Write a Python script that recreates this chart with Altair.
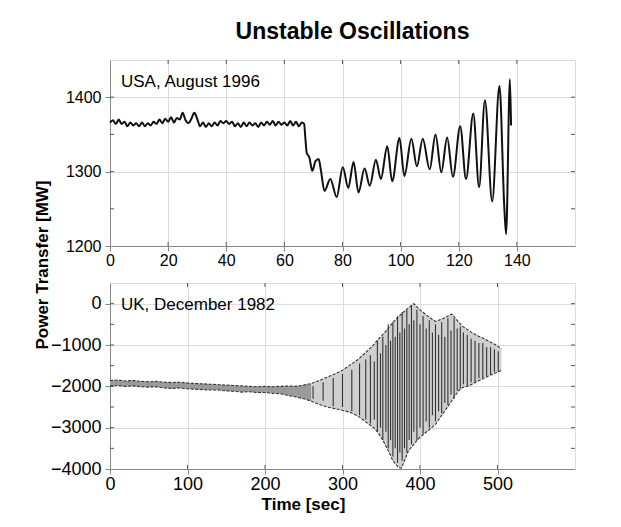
import altair as alt
import pandas as pd

TITLE = "Unstable Oscillations"
Y_TITLE = "Power Transfer [MW]"
X_TITLE = "Time [sec]"
USA_LABEL = ["USA, August 1996"]
UK_LABEL = ["UK, December 1982"]

# ---- top panel: USA, August 1996 ----
usa_t = [0, 1, 2, 3, 4, 5, 6, 7, 8, 9, 10, 11, 12, 13, 14, 15, 16, 17, 18, 19,
         20, 21, 22, 23, 24, 25, 26, 27, 28, 29, 30, 31, 32, 33, 34, 35, 36, 37, 38, 39,
         40, 41, 42, 43, 44, 45, 46, 47, 48, 49, 50, 51, 52, 53, 54, 55, 56, 57, 58, 59,
         60, 61, 62, 63, 64, 65, 66, 66.8,
         67.2, 67.7, 68.6, 69.6, 70.7, 71.8, 72.6, 73.8, 75.8, 78.0, 80.1, 82.0, 83.8,
         85.5, 87.6, 89.4, 91.5, 93.2, 95.4, 97.1, 99.6, 101.3, 103.7, 105.6, 107.6,
         110.0, 112.0, 114.0, 116.0, 118.0, 120.5, 122.5, 125.0, 127.0, 129.0, 131.5,
         134.0, 135.7, 136.3, 137.6, 138.0]
usa_mw = [1366, 1369, 1364, 1370, 1364, 1367, 1361, 1366, 1362, 1365, 1361, 1366, 1361, 1365,
          1362, 1367, 1364, 1370, 1365, 1371, 1367, 1373, 1366, 1372, 1370, 1379, 1369, 1365,
          1371, 1379, 1371, 1361, 1366, 1360, 1365, 1361, 1366, 1362, 1368, 1365, 1368, 1364,
          1367, 1361, 1365, 1360, 1366, 1361, 1366, 1362, 1365, 1360, 1366, 1362, 1367, 1363,
          1368, 1362, 1367, 1363, 1366, 1362, 1368, 1362, 1367, 1361, 1366, 1364,
          1346, 1325, 1319, 1301, 1314, 1317, 1301, 1274, 1290, 1266, 1306, 1278, 1313,
          1272, 1304, 1281, 1316, 1290, 1334, 1287, 1345, 1294, 1344, 1307, 1344,
          1303, 1350, 1299, 1346, 1293, 1361, 1290, 1378, 1279, 1396, 1260,
          1415, 1250, 1216, 1424, 1362]

usa_xlabels = [0, 20, 40, 60, 80, 100, 120, 140]
usa_xticks = [20, 40, 60, 80, 100, 120, 140]
usa_ylabels = [1200, 1300, 1400]
usa_yticks = [1250, 1300, 1350, 1400]

# ---- bottom panel: UK, December 1982 ----
uk_env_t = [0, 10, 20, 30, 40, 50, 60, 70, 80, 90, 100, 110, 120, 130, 140, 150, 160, 170,
            180, 190, 200, 210, 220, 230, 240, 250, 260, 270, 280, 290, 300, 310, 320, 330,
            340, 346, 352, 359, 365, 372, 376, 380, 385, 392, 400, 410, 420, 430, 441, 450,
            455, 463, 467, 475, 484, 492, 500, 505]
uk_env_hi = [-1860, -1850, -1870, -1860, -1880, -1890, -1880, -1900, -1910, -1900, -1920,
             -1930, -1940, -1950, -1960, -1970, -1980, -1990, -2000, -2010, -2000, -2010,
             -2000, -1990, -2000, -1970, -1930, -1860, -1780, -1700, -1610, -1480, -1350,
             -1180, -1000, -860, -750, -600, -450, -320, -250, -180, -100, 0, -150, -300, -430,
             -360, -250, -450, -550, -650, -700, -780, -860, -940, -1020, -1100]
uk_env_lo = [-1990, -1980, -2000, -1990, -2010, -2020, -2010, -2040, -2050, -2040, -2060,
             -2070, -2080, -2090, -2090, -2110, -2120, -2140, -2130, -2150, -2150, -2170,
             -2180, -2220, -2260, -2300, -2360, -2440, -2500, -2540, -2580, -2630, -2720,
             -2860, -3000, -3120, -3300, -3550, -3800, -3960, -3980, -3800, -3560, -3400,
             -3230, -3080, -2920, -2650, -2350, -2100, -2030, -1990, -1950, -1870, -1790,
             -1720, -1650, -1620]

uk_stroke_t = [262, 275, 288, 300, 312, 322, 330, 336, 341, 345, 349, 352, 356, 359, 362,
               365, 368, 371, 374, 377, 380, 383, 386, 389, 392, 396, 400, 404, 408, 412,
               416, 420, 424, 428, 432, 436, 440, 444, 448, 452, 456, 461, 466, 471, 476,
               481, 486, 491, 496, 501]
uk_stroke_lo = [-2300, -2350, -2480, -2500, -2600, -2700, -2800, -2900, -2800, -3100, -3000,
                -3300, -3100, -3500, -3300, -3700, -3500, -3850, -3600, -3800, -3500, -3600,
                -3300, -3400, -3100, -3300, -3000, -3150, -2850, -3000, -2700, -2850, -2600,
                -2650, -2400, -2450, -2200, -2300, -2100, -2050, -1950, -1990, -1900, -1900,
                -1800, -1800, -1750, -1720, -1650, -1640]
uk_stroke_hi = [-2000, -1900, -1800, -1700, -1600, -1450, -1350, -1250, -1400, -900, -1200,
                -800, -1000, -500, -900, -450, -800, -300, -700, -200, -600, -150, -500, -50,
                -400, -150, -500, -300, -600, -400, -700, -500, -750, -450, -800, -350, -650,
                -350, -600, -550, -700, -750, -850, -900, -950, -950, -1050, -1050, -1100,
                -1150]

uk_xlabels = [0, 100, 200, 300, 400, 500]
uk_xticks = [100, 200, 300, 400, 500]
uk_ylabels = [-4000, -3000, -2000, -1000, 0]
uk_yticks = [-3500, -3000, -2500, -2000, -1500, -1000, -500, 0]

W, H = 465, 186
FONT = "Liberation Sans"


def edge_ticks(vals, scale, axis, orient):
    df = pd.DataFrame({"v": vals})
    m = alt.Chart(df).mark_rule(color="#555", strokeWidth=1)
    if orient in ("bottom", "top"):
        enc = dict(x=alt.X("v:Q", scale=scale, axis=axis))
        if orient == "bottom":
            enc.update(y=alt.value(H), y2=alt.value(H - 4))
        else:
            enc.update(y=alt.value(0), y2=alt.value(4))
    else:
        enc = dict(y=alt.Y("v:Q", scale=scale, axis=axis))
        if orient == "left":
            enc.update(x=alt.value(0), x2=alt.value(4))
        else:
            enc.update(x=alt.value(W), x2=alt.value(W - 4))
    return m.encode(**enc)


def label_layer(txt):
    return alt.Chart(pd.DataFrame({"label": txt})).mark_text(
        align="left", baseline="middle", fontSize=17, font=FONT, color="black"
    ).encode(x=alt.value(11), y=alt.value(22), text="label:N")


# top chart
xs1 = alt.Scale(domain=[0, 160], nice=False, zero=False)
ys1 = alt.Scale(domain=[1200, 1450], nice=False, zero=False)
xax1 = alt.Axis(values=usa_xlabels, title=None, labelFontSize=16, labelFlush=False,
                labelPadding=1, format="d")
yax1 = alt.Axis(values=usa_ylabels, title=Y_TITLE, labelFontSize=16, labelPadding=4,
                format="d", titleX=-68, titleY=H + 18.5, titleBaseline="middle",
                titleAlign="center", titleFontSize=17)
usa_df = pd.DataFrame({"t": usa_t, "mw": usa_mw})
usa_line = alt.Chart(usa_df).mark_line(
    color="#111", strokeWidth=2, interpolate="monotone"
).encode(
    x=alt.X("t:Q", scale=xs1, axis=xax1),
    y=alt.Y("mw:Q", scale=ys1, axis=yax1),
)
top = alt.layer(
    usa_line,
    edge_ticks(usa_xticks, xs1, xax1, "bottom"), edge_ticks(usa_xticks, xs1, xax1, "top"),
    edge_ticks(usa_yticks, ys1, yax1, "left"), edge_ticks(usa_yticks, ys1, yax1, "right"),
    label_layer(USA_LABEL),
).properties(
    width=W, height=H,
    title=alt.Title(TITLE, fontSize=23, font=FONT, fontWeight="bold", anchor="middle",
                    dx=10, offset=16, color="black"),
)

# bottom chart
xs2 = alt.Scale(domain=[0, 600], nice=False, zero=False)
ys2 = alt.Scale(domain=[-4000, 500], nice=False, zero=False)
env_df = pd.DataFrame({"t": uk_env_t, "lo": uk_env_lo, "hi": uk_env_hi})
stroke_df = pd.DataFrame({"t": uk_stroke_t, "lo": uk_stroke_lo, "hi": uk_stroke_hi})

xax2 = alt.Axis(values=uk_xlabels, title=X_TITLE, labelFontSize=18, labelFlush=False,
                labelPadding=1, format="d", titleX=193, titleY=35, titleBaseline="middle",
                titleAlign="center", titleFontSize=17)
yax2 = alt.Axis(values=uk_ylabels, title=None, labelFontSize=18, labelPadding=4, format="d")

X2 = alt.X("t:Q", scale=xs2, axis=xax2)
band_early = alt.Chart(env_df).transform_filter(alt.datum.t <= 260).mark_area(
    color="#9a9a9a"
).encode(x=X2, y=alt.Y("lo:Q", scale=ys2, axis=yax2), y2="hi:Q")
band_late = alt.Chart(env_df).transform_filter(alt.datum.t >= 260).mark_area(
    color="#cfcfcf"
).encode(x=X2, y=alt.Y("lo:Q", scale=ys2, axis=yax2), y2="hi:Q")
edge_lo = alt.Chart(env_df).mark_line(color="#333", strokeWidth=1.1, strokeDash=[3, 1.5]).encode(
    x=X2, y=alt.Y("lo:Q", scale=ys2, axis=yax2))
edge_hi = alt.Chart(env_df).mark_line(color="#333", strokeWidth=1.1, strokeDash=[3, 1.5]).encode(
    x=X2, y=alt.Y("hi:Q", scale=ys2, axis=yax2))
strokes = alt.Chart(stroke_df).mark_rule(color="#333", strokeWidth=1.1).encode(
    x=X2, y=alt.Y("lo:Q", scale=ys2, axis=yax2), y2="hi:Q")

bottom = alt.layer(
    band_early, band_late, strokes, edge_lo, edge_hi,
    edge_ticks(uk_xticks, xs2, xax2, "bottom"), edge_ticks(uk_xticks, xs2, xax2, "top"),
    edge_ticks(uk_yticks, ys2, yax2, "left"), edge_ticks(uk_yticks, ys2, yax2, "right"),
    label_layer(UK_LABEL),
).properties(width=W, height=H)

chart = alt.vconcat(top, bottom, spacing=37, bounds="flush").properties(
    padding={"left": 24, "top": 12, "right": 5, "bottom": 5}
).configure_view(
    stroke="black", strokeWidth=1.6
).configure_axis(
    domain=False, ticks=False, grid=False, labelFont=FONT, labelColor="black",
    titleFont=FONT, titleColor="black", titleFontWeight="bold"
).configure(background="white")

chart.save("out.html", embed_options={"renderer": "svg", "actions": False})
